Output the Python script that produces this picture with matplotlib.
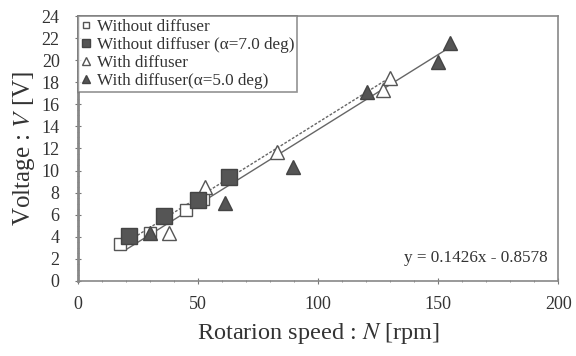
import numpy as np
import matplotlib
matplotlib.use("Agg")
import matplotlib.pyplot as plt
from matplotlib.ticker import MultipleLocator

plt.rcParams['font.family'] = ['Liberation Serif', 'DejaVu Serif']
plt.rcParams['mathtext.fontset'] = 'stix'

# data
n_wo = [17.5, 30, 45, 52]
v_wo = [3.3, 4.3, 6.4, 7.4]
n_wo_a = [21.5, 36, 50, 63]
v_wo_a = [4.1, 5.9, 7.3, 9.4]
n_w = [38, 53, 83, 127, 130]
v_w = [4.3, 8.5, 11.7, 17.3, 18.4]
n_w_a = [30, 61.5, 89.5, 120.5, 150, 155]
v_w_a = [4.3, 7.1, 10.3, 17.1, 19.8, 21.6]

# trend lines as drawn (slope, intercept, x range)
fit_solid = (0.136, 0.1, 20, 156)
fit_dash = (0.136, 0.75, 17, 131)
eq_text = "y = 0.1426x - 0.8578"

fig, ax = plt.subplots(figsize=(5.76, 3.56), dpi=100)
fig.subplots_adjust(left=0.135, right=0.969, bottom=0.211, top=0.955)

grey = '#555555'
for (a, b, x0, x1), ls in [(fit_solid, '-'), (fit_dash, (0, (2, 1.2)))]:
    xs = np.array([x0, x1])
    ax.plot(xs, a * xs + b, color='#666666', lw=1.0, ls=ls, zorder=1)

ax.plot(n_wo, v_wo, ls='none', marker='s', ms=9, mfc='white', mec='#555555',
        mew=1.0, label='Without diffuser', zorder=2)
ax.plot(n_wo_a, v_wo_a, ls='none', marker='s', ms=11, mfc=grey, mec='#444444',
        label='Without diffuser (\u03b1=7.0 deg)', zorder=3)
ax.plot(n_w, v_w, ls='none', marker='^', ms=10, mfc='white', mec='#555555',
        mew=1.0, label='With diffuser', zorder=2)
ax.plot(n_w_a, v_w_a, ls='none', marker='^', ms=10, mfc=grey, mec='#444444',
        label='With diffuser(\u03b1=5.0 deg)', zorder=3)

ax.set_xlim(0, 200)
ax.set_ylim(0, 24)
ax.xaxis.set_major_locator(MultipleLocator(50))
ax.xaxis.set_minor_locator(MultipleLocator(10))
ax.yaxis.set_major_locator(MultipleLocator(2))
ax.yaxis.set_minor_locator(MultipleLocator(0.5))
ax.tick_params(which='both', direction='inout', colors='#777777',
               labelcolor='#333333', labelsize=13)
ax.tick_params(which='major', length=4)
ax.tick_params(which='minor', length=2)
ax.tick_params(axis='y', pad=11)
ax.tick_params(axis='x', pad=9)
for s in ax.spines.values():
    s.set_color('#888888')
    s.set_linewidth(1.2)
ax.spines['left'].set_linewidth(2)

ax.set_xlabel('Rotarion speed : $N$ [rpm]', fontsize=17.5, color='#333333',
              labelpad=6)
ax.set_ylabel('Voltage : $V$ [V]', fontsize=18, color='#333333', labelpad=3)

ax.text(195.5, 2.1, eq_text, ha='right', va='center', fontsize=12.3,
        color='#333333')

leg = ax.legend(loc='upper left', bbox_to_anchor=(0.0, 1.0), fontsize=12.3,
                frameon=True, fancybox=False, borderpad=0.2, handlelength=0.6,
                handletextpad=0.3, labelspacing=0.1, borderaxespad=0.0,
                markerscale=0.55)
leg.get_frame().set_edgecolor('#777777')
leg.get_frame().set_linewidth(1.2)
for t in leg.get_texts():
    t.set_color('#333333')

fig.savefig('out.png', dpi=100)
